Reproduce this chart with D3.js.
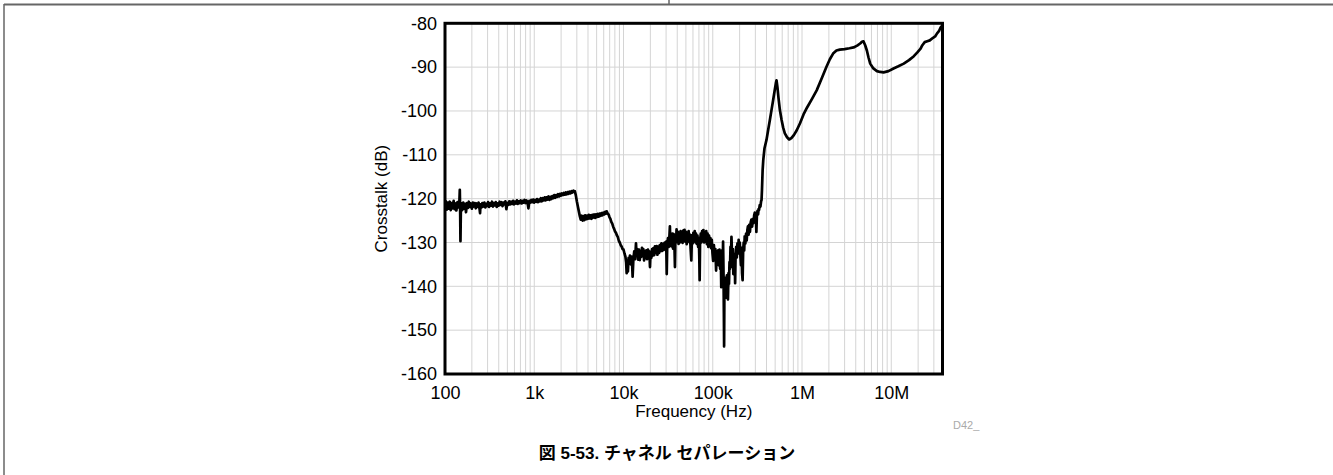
<!DOCTYPE html>
<html>
<head>
<meta charset="utf-8">
<script src="https://cdn.jsdelivr.net/npm/d3@7"></script>
<style>
  html, body { margin: 0; padding: 0; background: #fff; }
  svg { display: block; }
  text { font-family: "Liberation Sans", Arial, sans-serif; }
</style>
</head>
<body>
<svg id="chart" width="1333" height="475"></svg>
<script>
// ---------------- data ----------------
const xTickValues = [100, 1e3, 1e4, 1e5, 1e6, 1e7];
const xTickLabels = ["100", "1k", "10k", "100k", "1M", "10M"];
const yTickValues = [-80, -90, -100, -110, -120, -130, -140, -150, -160];
const yTickLabels = ["-80", "-90", "-100", "-110", "-120", "-130", "-140", "-150", "-160"];

// [frequency (Hz), crosstalk (dB)] — low-frequency plateau, 100 Hz to 2.85 kHz
const plateauLow = [
  [100,-121.9],[102.5,-120.6],[105,-122.5],[108,-120.9],[110,-122.3],[113,-120.7],[116,-122.6],[119,-121.0],
  [122,-122.2],[125,-120.5],[128,-122.4],[131,-121.1],[134,-122.7],[138,-120.8],[141,-122.0],[145,-120.6],
  [146.5,-118.0],[148,-123.5],[149,-129.7],[150.5,-122.8],[152,-121.0],[156,-122.6],[160,-120.9],[164,-122.3],
  [168,-121.2],[172,-123.1],[176,-121.0],[181,-122.1],[185,-120.7],[190,-121.9],[195,-121.1],[200,-122.3],
  [205,-120.9],[210,-121.8],[215,-121.0],[221,-122.2],[226,-121.1],[232,-121.9],[238,-120.9],[244,-122.4],
  [247,-123.3],[250,-121.3],[256,-122.0],[262,-121.0],[269,-121.8],[276,-120.9],[283,-122.0],[290,-121.2],
  [297,-121.7],[304,-120.8],[312,-121.9],[320,-121.1],[328,-121.6],[336,-120.7],[344,-121.8],[353,-121.0],
  [362,-121.5],[371,-120.8],[380,-121.9],[390,-121.1],[399,-121.6],[409,-120.7],[420,-121.4],[430,-120.8],
  [441,-121.7],[452,-120.9],[463,-121.3],[475,-120.6],[487,-122.4],[499,-121.0],[511,-121.4],[524,-120.6],
  [537,-121.3],[551,-120.7],[565,-121.2],[579,-120.5],[593,-121.3],[608,-120.7],[623,-121.1],[639,-120.4],
  [655,-121.2],[671,-120.6],[688,-121.0],[705,-120.4],[723,-121.1],[741,-120.5],[760,-120.9],[779,-120.3],
  [798,-121.0],[818,-120.4],[839,-120.8],[860,-122.2],[881,-120.5],[903,-120.9],[926,-120.3],[949,-120.8],
  [973,-120.2],[997,-120.9],[1022,-120.3],[1048,-120.7],[1074,-120.1],[1101,-120.8],[1128,-120.2],[1157,-120.6],
  [1186,-119.9],[1215,-120.6],[1246,-119.9],[1277,-120.4],[1309,-119.7],[1341,-120.4],[1375,-119.7],[1409,-120.2],
  [1445,-119.5],[1481,-120.3],[1518,-119.6],[1556,-120.1],[1595,-119.4],[1634,-119.9],[1675,-119.2],[1717,-119.8],
  [1760,-119.2],[1804,-119.6],[1849,-119.0],[1896,-119.5],[1943,-118.9],[1992,-119.3],[2041,-118.8],[2092,-119.2],
  [2145,-118.7],[2198,-119.1],[2253,-118.6],[2310,-119.0],[2367,-118.5],[2427,-118.9],[2487,-118.4],[2549,-118.8],
  [2613,-118.3],[2679,-118.6],[2746,-118.2],[2814,-118.4],[2850,-118.3]
];

// step down and second plateau, 2.9 kHz to 13 kHz
const plateauMid = [
  [2920,-119.2],[3000,-120.6],[3080,-121.8],[3160,-122.9],[3240,-124.0],[3320,-124.8],[3400,-123.9],[3480,-125.0],
  [3560,-124.0],[3640,-124.9],[3720,-123.8],[3810,-124.7],[3900,-123.9],[3990,-124.6],[4080,-123.7],[4180,-124.5],
  [4280,-123.8],[4380,-124.6],[4480,-123.7],[4590,-124.3],[4700,-123.6],[4810,-124.4],[4920,-123.6],[5040,-124.2],
  [5160,-123.5],[5280,-124.1],[5400,-123.4],[5530,-123.9],[5660,-123.3],[5800,-123.8],[5940,-123.2],[6080,-123.6],
  [6230,-123.0],[6380,-123.4],[6480,-122.9],[6640,-123.4],[6800,-123.6],[6960,-124.2],[7130,-124.6],[7300,-125.3],
  [7480,-125.7],[7660,-126.4],[7850,-126.9],[8040,-127.5],[8240,-127.8],[8440,-128.4],[8650,-128.8],[8860,-129.6],
  [9080,-130.0],[9300,-130.6],[9530,-130.9],[9760,-131.5],[10000,-131.6],[10250,-132.5],[10500,-133.2],[10700,-134.5],
  [10850,-137.0],[11000,-134.2],[11200,-136.6],[11400,-133.5],[11600,-134.8],[11800,-133.0],[12100,-135.0],[12400,-133.2],
  [12650,-137.8],[12900,-133.8]
];

// noisy floor, 13 kHz to 350 kHz
const noiseFloor = [
  [13200,-132.0],[13500,-133.8],[13800,-130.2],[14000,-132.8],[14300,-131.5],[14600,-133.9],[14900,-131.6],[15200,-134.0],
  [15500,-132.0],[15800,-133.3],[16100,-131.2],[16400,-132.8],[16700,-131.5],[17000,-134.1],[17300,-132.0],[17700,-133.6],
  [18000,-131.8],[18400,-133.8],[18800,-131.6],[19200,-133.2],[19500,-132.0],[19800,-135.6],[20100,-132.2],[20500,-133.5],
  [20900,-131.5],[21300,-133.0],[21700,-131.3],[22100,-132.9],[22500,-130.9],[23000,-132.4],[23500,-130.8],[24000,-132.8],
  [24500,-131.0],[25000,-132.4],[25500,-130.6],[26000,-132.0],[26600,-130.2],[27200,-131.9],[27800,-130.3],[28400,-131.7],
  [29000,-130.0],[29600,-131.4],[30100,-129.8],[30500,-137.2],[30900,-130.4],[31500,-129.0],[32100,-131.0],[32700,-128.5],
  [33100,-126.3],[33500,-130.8],[34100,-128.4],[34700,-130.9],[35300,-128.0],[35900,-131.4],[36500,-128.1],[37100,-129.5],
  [37700,-135.6],[38200,-128.3],[38800,-130.0],[39300,-127.0],[40000,-129.6],[40700,-127.6],[41400,-130.3],[42100,-127.8],
  [42800,-130.0],[43600,-127.4],[44300,-129.8],[45100,-127.9],[45900,-130.1],[46700,-127.3],[47500,-129.5],[48300,-127.1],
  [49200,-129.8],[50100,-127.6],[51000,-130.4],[51900,-127.8],[52800,-129.6],[53700,-127.4],[54700,-129.9],[55600,-128.2],
  [56500,-131.5],[57500,-134.1],[58500,-128.3],[59500,-130.2],[60600,-127.8],[61700,-129.7],[62800,-127.4],[63900,-130.0],
  [65000,-128.0],[66200,-130.3],[67400,-128.4],[68600,-131.0],[69800,-129.0],[70600,-133.0],[71300,-138.6],[72000,-130.6],
  [73300,-128.0],[74600,-130.0],[76000,-127.4],[77300,-129.6],[78700,-127.2],[80100,-130.0],[81500,-127.8],[83000,-129.8],
  [84500,-127.4],[86000,-130.4],[87600,-128.0],[89200,-131.0],[90800,-128.4],[92400,-130.6],[94100,-129.0],[95800,-131.3],
  [97500,-129.4],[99300,-132.5],[101000,-134.2],[103000,-130.6],[105000,-133.8],[107000,-131.5],[109000,-136.4],[111000,-132.0],
  [113000,-134.6],[115000,-131.8],[117000,-135.2],[119000,-131.6],[121000,-136.0],[123000,-133.0],[124500,-140.2],[126000,-134.6],
  [127500,-131.8],[129000,-136.5],[130500,-129.8],[132000,-137.0],[133200,-146.0],[134000,-153.7],[135000,-141.0],[136500,-138.0],
  [138000,-142.0],[140000,-139.0],[142000,-142.6],[144000,-137.5],[146000,-140.5],[148000,-143.0],[150000,-137.0],[152000,-139.5],
  [154000,-134.5],[156000,-136.0],[158000,-131.0],[160000,-133.4],[162000,-128.7],[164000,-132.0],[166000,-135.6],[168000,-131.5],
  [170000,-137.2],[172000,-133.0],[174000,-135.4],[176000,-132.6],[178000,-139.3],[180000,-133.4],[183000,-131.0],[186000,-133.4],
  [189000,-130.2],[192000,-132.5],[195000,-129.4],[198000,-131.8],[201000,-130.0],[204000,-133.0],[207000,-135.2],[210000,-131.2],
  [213000,-137.0],[216000,-138.6],[219000,-132.0],[222000,-130.0],[225000,-131.8],[228000,-128.6],[232000,-130.2],[236000,-128.0],
  [240000,-129.5],[244000,-127.2],[248000,-126.3],[252000,-128.2],[256000,-126.0],[261000,-127.6],[266000,-125.4],[271000,-124.8],
  [276000,-126.4],[281000,-124.6],[286000,-125.6],[291000,-123.8],[296000,-123.2],[300000,-124.6],[304000,-123.5],[308000,-127.6],
  [312000,-124.0],[317000,-122.8],[322000,-123.6],[326000,-122.4],[330000,-122.6],[336000,-121.5],[342000,-121.8],[348000,-120.6],
  [352000,-120.3]
];

// steep rise and high-frequency region, 356 kHz to 37.4 MHz
const highFreq = [
  [356000,-118.0],[362000,-113.5],[368000,-111.2],[380000,-108.5],[400000,-106.6],[418000,-104.3],[436000,-102.1],[455000,-99.8],
  [475000,-97.5],[497000,-95.0],[510000,-93.6],[518000,-93.0],[530000,-94.5],[545000,-97.0],[565000,-99.8],[590000,-102.0],
  [615000,-103.8],[642000,-105.1],[680000,-106.0],[718000,-106.5],[760000,-106.2],[810000,-105.5],[873000,-104.4],[950000,-102.8],
  [1040000,-100.8],[1140000,-99.2],[1290000,-97.3],[1460000,-95.3],[1660000,-92.6],[1880000,-89.9],[2050000,-88.2],[2230000,-86.9],
  [2430000,-86.2],[2650000,-86.0],[3000000,-85.9],[3400000,-85.7],[3780000,-85.5],[4150000,-85.1],[4480000,-84.6],[4700000,-84.2],
  [4880000,-84.1],[5100000,-85.0],[5330000,-86.2],[5560000,-87.8],[5810000,-89.2],[6300000,-90.3],[6910000,-90.9],[7500000,-91.1],
  [8200000,-91.2],[9300000,-90.9],[10600000,-90.3],[12000000,-89.8],[13800000,-89.2],[15800000,-88.4],[17900000,-87.5],[19500000,-86.7],
  [21300000,-85.8],[22300000,-85.0],[23700000,-84.3],[25300000,-84.1],[27000000,-83.9],[29400000,-83.3],[31000000,-83.0],[32600000,-82.3],
  [34200000,-81.8],[35600000,-81.0],[37400000,-80.5]
];

const xAxisTitle = "Frequency (Hz)";
const yAxisTitle = "Crosstalk (dB)";
const captionText = "図 5-53. チャネル セパレーション";
const figureId = "D42_";

// ---------------- drawing ----------------
const svg = d3.select("#chart");
const plot = { left: 445, right: 942.5, top: 23.3, bottom: 374 };

const x = d3.scaleLog().domain([100, 3.75e7]).range([plot.left, plot.right]);
const y = d3.scaleLinear().domain([-160, -80]).range([plot.bottom, plot.top]);

// page frame
svg.append("line").attr("x1", 4).attr("x2", 1333).attr("y1", 4.5).attr("y2", 4.5)
  .attr("stroke", "#666").attr("stroke-width", 2);
svg.append("line").attr("x1", 4).attr("x2", 4).attr("y1", 4).attr("y2", 475)
  .attr("stroke", "#666").attr("stroke-width", 1.5);
svg.append("line").attr("x1", 669).attr("x2", 669).attr("y1", 0).attr("y2", 5)
  .attr("stroke", "#666").attr("stroke-width", 1.5);

// gridlines
const minorX = [];
for (let e = 2; e <= 7; e++) {
  for (let m = 1; m <= 9; m++) {
    const v = m * Math.pow(10, e);
    if (v > 100 && v < 3.75e7) minorX.push(v);
  }
}
const grid = svg.append("g").attr("stroke", "#d4d4d4").attr("stroke-width", 1);
grid.selectAll("line.vx").data(minorX).enter().append("line")
  .attr("x1", d => x(d)).attr("x2", d => x(d))
  .attr("y1", plot.top).attr("y2", plot.bottom);
grid.selectAll("line.hy").data(yTickValues.filter(v => v > -160 && v < -80)).enter().append("line")
  .attr("x1", plot.left).attr("x2", plot.right)
  .attr("y1", d => y(d)).attr("y2", d => y(d));

// curve
const pts = plateauLow.concat(plateauMid, noiseFloor, highFreq);
const line = d3.line().x(d => x(d[0])).y(d => y(d[1]));
svg.append("defs").append("clipPath").attr("id", "clip").append("rect")
  .attr("x", plot.left).attr("y", plot.top - 2)
  .attr("width", plot.right - plot.left).attr("height", plot.bottom - plot.top + 2);
svg.append("path").datum(pts)
  .attr("clip-path", "url(#clip)")
  .attr("d", line).attr("fill", "none")
  .attr("stroke", "#000").attr("stroke-width", 2.7)
  .attr("stroke-linejoin", "round");

// plot border
svg.append("rect").attr("x", plot.left).attr("y", plot.top)
  .attr("width", plot.right - plot.left).attr("height", plot.bottom - plot.top)
  .attr("fill", "none").attr("stroke", "#000").attr("stroke-width", 3);

// axes (labels via d3 axes)
const yAxis = d3.axisLeft(y).tickValues(yTickValues)
  .tickFormat((d, i) => yTickLabels[i]).tickSize(0).tickPadding(8);
const gy = svg.append("g").attr("transform", `translate(${plot.left},0)`).call(yAxis);
gy.select(".domain").remove();
gy.selectAll("text").attr("font-size", 18).attr("fill", "#000")
  .style("font-family", "'Liberation Sans', Arial, sans-serif");

const xAxis = d3.axisBottom(x).tickValues(xTickValues)
  .tickFormat((d, i) => xTickLabels[i]).tickSize(0).tickPadding(12);
const gx = svg.append("g").attr("transform", `translate(0,${plot.bottom})`).call(xAxis);
gx.select(".domain").remove();
gx.selectAll("text").attr("font-size", 18).attr("fill", "#000")
  .style("font-family", "'Liberation Sans', Arial, sans-serif");

// titles
svg.append("text").attr("x", (plot.left + plot.right) / 2).attr("y", 417)
  .attr("text-anchor", "middle").attr("font-size", 17).text(xAxisTitle);
svg.append("text").attr("transform", `translate(387,${(plot.top + plot.bottom) / 2}) rotate(-90)`)
  .attr("text-anchor", "middle").attr("font-size", 17).text(yAxisTitle);
svg.append("text").attr("x", 953).attr("y", 429).attr("font-size", 11)
  .attr("fill", "#aaa").text(figureId);
svg.append("text").attr("x", 667).attr("y", 459).attr("text-anchor", "middle")
  .attr("font-size", 17).attr("font-weight", "bold")
  .style("font-family", "'Liberation Sans', 'Noto Sans CJK JP', sans-serif")
  .text(captionText);
</script>
</body>
</html>
